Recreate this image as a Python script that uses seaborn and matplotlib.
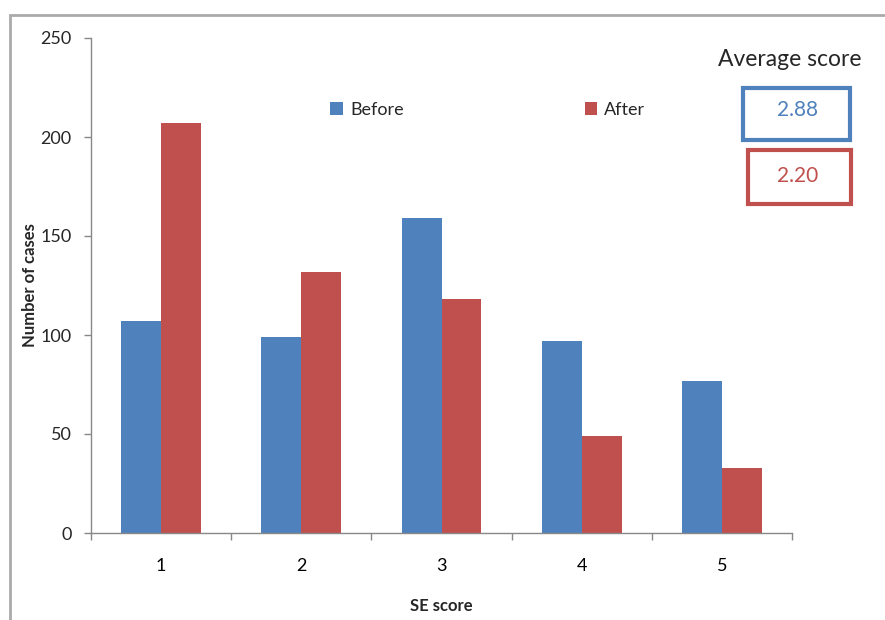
import matplotlib
matplotlib.use("Agg")
import matplotlib.pyplot as plt
import seaborn as sns
import pandas as pd
from matplotlib.patches import Rectangle

categories = ["1", "2", "3", "4", "5"]
before = [107, 99, 159, 97, 77]
after = [207, 132, 118, 49, 33]
series_names = ["Before", "After"]
avg_scores = ["2.88", "2.20"]

BLUE = "#4F81BD"
RED = "#C0504D"

sns.set_theme(style="white")
plt.rcParams['font.family'] = ['Lato', 'DejaVu Sans']

df = pd.DataFrame({
    "SE score": categories * 2,
    "Number of cases": before + after,
    "Series": [series_names[0]] * len(categories) + [series_names[1]] * len(categories),
})

fig = plt.figure(figsize=(8.85, 6.2), dpi=100)
ax = fig.add_axes([91/885, 1-533/620, (792-91)/885, (533-38)/620])

sns.barplot(data=df, x="SE score", y="Number of cases", hue="Series",
            palette=[BLUE, RED], width=0.57, saturation=1, ax=ax, errorbar=None,
            edgecolor="none")

ax.set_xlim(-0.5, len(categories) - 0.5)
ax.set_ylim(0, 250)
ax.set_yticks([0, 50, 100, 150, 200, 250])
ax.set_xticks(range(len(categories)))
ax.set_xticklabels(categories)
ax.set_xticks([i + 0.5 for i in range(-1, len(categories))], minor=True)
ax.tick_params(axis="x", which="major", length=0, pad=18, labelsize=13, colors="black")
ax.tick_params(axis="x", which="minor", length=5, width=1, color="#888888", direction="out", bottom=True)
ax.tick_params(axis="y", length=5, width=1, color="#888888", direction="out", left=True, labelsize=13, pad=9)

for s in ["top", "right"]:
    ax.spines[s].set_visible(False)
for s in ["left", "bottom"]:
    ax.spines[s].set_color("#888888")
    ax.spines[s].set_linewidth(1)

ax.set_xlabel("SE score", fontsize=12, fontweight="bold", labelpad=17)
ax.set_ylabel("Number of cases", fontsize=12, fontweight="bold", labelpad=2)

leg = ax.legend(loc="center", bbox_to_anchor=((488-91)/(792-91), (533-110)/(533-38)),
                ncol=2, frameon=False, fontsize=13, handlelength=0.7, handleheight=0.7,
                handletextpad=0.4, columnspacing=10.0)

# Average score annotation
fig.text(790/885, 1-60/620, "Average score", ha="center", va="center", fontsize=16.5)
fig.patches.append(Rectangle((743/885, 1-140/620), 107/885, 52/620, transform=fig.transFigure,
                             fill=False, edgecolor=BLUE, linewidth=3))
fig.text(797/885, 1-110/620, avg_scores[0], ha="center", va="center", fontsize=15, color=BLUE)
fig.patches.append(Rectangle((748/885, 1-204/620), 103/885, 54/620, transform=fig.transFigure,
                             fill=False, edgecolor=RED, linewidth=3))
fig.text(798/885, 1-176/620, avg_scores[1], ha="center", va="center", fontsize=15, color=RED)

# outer chart border
fig.patches.append(Rectangle((10/885, -0.05), 1.0, 1-15/620 + 0.05, transform=fig.transFigure,
                             fill=False, edgecolor="#AAAAAA", linewidth=2))

fig.savefig("out.png", dpi=100)
